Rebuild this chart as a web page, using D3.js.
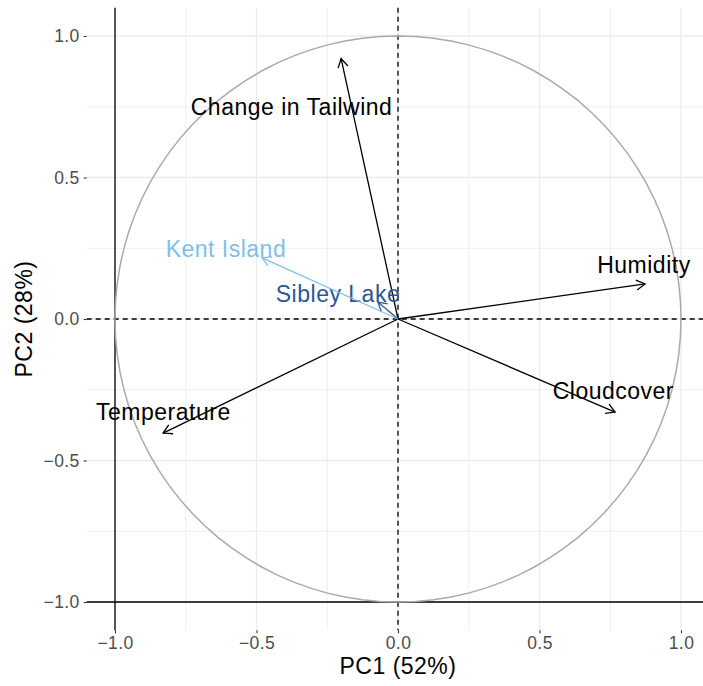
<!DOCTYPE html>
<html>
<head>
<meta charset="utf-8">
<script src="https://cdn.jsdelivr.net/npm/d3@7"></script>
<style>
  body { margin: 0; background: #fff; }
  text { font-family: "Liberation Sans", Arial, sans-serif; }
</style>
</head>
<body>
<svg id="chart" width="703" height="686"></svg>
<script>
// active variables (loadings on PC1 / PC2)
const varNames = ["Change in Tailwind", "Humidity", "Cloudcover", "Temperature"];
const varPC1 = [-0.201, 0.873, 0.767, -0.830];
const varPC2 = [0.920, 0.124, -0.329, -0.403];
const varLabelX = [-0.376, 0.869, 0.761, -0.829];
const varLabelY = [0.749, 0.191, -0.254, -0.329];

// supplementary variables (sites)
const supNames = ["Sibley Lake", "Kent Island"];
const supPC1 = [-0.071, -0.480];
const supPC2 = [0.060, 0.216];
const supLabelX = [-0.212, -0.608];
const supLabelY = [0.088, 0.247];
const supColors = ["#2c5698", "#80bfea"];

const tickValues = [-1.0, -0.5, 0.0, 0.5, 1.0];
const minorValues = [-0.75, -0.25, 0.25, 0.75];
const xTitle = "PC1 (52%)";
const yTitle = "PC2 (28%)";

const svg = d3.select("#chart");
const x = d3.scaleLinear().domain([-1, 1]).range([115, 681]);
const y = d3.scaleLinear().domain([-1, 1]).range([602, 36]);
const panel = { left: x(-1.1), right: x(1.1), top: y(1.1), bottom: y(-1.1) };

// grid
const grid = svg.append("g");
grid.selectAll(".minx").data(minorValues).join("line")
  .attr("x1", d => x(d)).attr("x2", d => x(d))
  .attr("y1", panel.top).attr("y2", panel.bottom)
  .attr("stroke", "#ebebeb").attr("stroke-width", 0.8);
grid.selectAll(".miny").data(minorValues).join("line")
  .attr("y1", d => y(d)).attr("y2", d => y(d))
  .attr("x1", panel.left).attr("x2", panel.right)
  .attr("stroke", "#ebebeb").attr("stroke-width", 0.8);
grid.selectAll(".majx").data(tickValues).join("line")
  .attr("x1", d => x(d)).attr("x2", d => x(d))
  .attr("y1", panel.top).attr("y2", panel.bottom)
  .attr("stroke", "#ebebeb").attr("stroke-width", 1.3);
grid.selectAll(".majy").data(tickValues).join("line")
  .attr("y1", d => y(d)).attr("y2", d => y(d))
  .attr("x1", panel.left).attr("x2", panel.right)
  .attr("stroke", "#ebebeb").attr("stroke-width", 1.3);

// axes (ticks + labels only)
const fmt = d => d3.format(".1f")(d).replace("-", "\u2212");
const xAxis = d3.axisBottom(x).tickValues(tickValues).tickSize(3).tickPadding(3).tickFormat(fmt);
const yAxis = d3.axisLeft(y).tickValues(tickValues).tickSize(3).tickPadding(4).tickFormat(fmt);

const gx = svg.append("g").attr("transform", `translate(0,${panel.bottom})`).call(xAxis);
const gy = svg.append("g").attr("transform", `translate(${panel.left},0)`).call(yAxis);
[gx, gy].forEach(g => {
  g.select(".domain").remove();
  g.selectAll(".tick line").attr("stroke", "#333").attr("stroke-width", 1.1);
  g.selectAll(".tick text").attr("fill", "#4d4d4d").style("font-size", "17.5px")
    .style("letter-spacing", "0.4px")
    .style("font-family", "'Liberation Sans', Arial, sans-serif");
});

// frame lines at -1 and dashed zero lines
svg.append("line").attr("x1", x(-1)).attr("x2", x(-1)).attr("y1", panel.top).attr("y2", panel.bottom)
  .attr("stroke", "#000").attr("stroke-width", 1.3);
svg.append("line").attr("y1", y(-1)).attr("y2", y(-1)).attr("x1", panel.left).attr("x2", panel.right)
  .attr("stroke", "#000").attr("stroke-width", 1.3);
svg.append("line").attr("x1", x(0)).attr("x2", x(0)).attr("y1", panel.top).attr("y2", panel.bottom)
  .attr("stroke", "#000").attr("stroke-width", 1.3).attr("stroke-dasharray", "5,4");
svg.append("line").attr("y1", y(0)).attr("y2", y(0)).attr("x1", panel.left).attr("x2", panel.right)
  .attr("stroke", "#000").attr("stroke-width", 1.3).attr("stroke-dasharray", "5,4");

// correlation circle
const circlePts = d3.range(0, 101).map(i => {
  const a = i / 100 * 2 * Math.PI;
  return [Math.cos(a), Math.sin(a)];
});
svg.append("path")
  .attr("d", d3.line().x(d => x(d[0])).y(d => y(d[1]))(circlePts))
  .attr("fill", "none").attr("stroke", "#aaaaaa").attr("stroke-width", 1.5);

function arrow(g, px, py, color) {
  const x0 = x(0), y0 = y(0), x1 = x(px), y1 = y(py);
  const ang = Math.atan2(y1 - y0, x1 - x0);
  const len = 10, spread = Math.PI / 6;
  const h1 = [x1 - len * Math.cos(ang - spread), y1 - len * Math.sin(ang - spread)];
  const h2 = [x1 - len * Math.cos(ang + spread), y1 - len * Math.sin(ang + spread)];
  g.append("line").attr("x1", x0).attr("y1", y0).attr("x2", x1).attr("y2", y1)
    .attr("stroke", color).attr("stroke-width", 1.3);
  g.append("path").attr("d", `M${h1[0]},${h1[1]}L${x1},${y1}L${h2[0]},${h2[1]}`)
    .attr("fill", "none").attr("stroke", color).attr("stroke-width", 1.3);
}

const marks = svg.append("g");
varNames.forEach((n, i) => arrow(marks, varPC1[i], varPC2[i], "#000"));
marks.selectAll(".vlab").data(varNames).join("text")
  .attr("x", (d, i) => x(varLabelX[i])).attr("y", (d, i) => y(varLabelY[i]))
  .attr("dy", "0.35em").attr("text-anchor", "middle")
  .style("font-size", "23px").style("letter-spacing", "0.5px")
  .attr("fill", "#000").text(d => d);

supNames.forEach((n, i) => {
  arrow(marks, supPC1[i], supPC2[i], supColors[i]);
  marks.append("text")
    .attr("x", x(supLabelX[i])).attr("y", y(supLabelY[i]))
    .attr("dy", "0.35em").attr("text-anchor", "middle")
    .style("font-size", "23px").style("letter-spacing", "0.5px")
    .attr("fill", supColors[i]).text(n);
});

// axis titles
svg.append("text").attr("x", x(0)).attr("y", 674).attr("text-anchor", "middle")
  .style("font-size", "23px").style("letter-spacing", "0.5px").attr("fill", "#000").text(xTitle);
svg.append("text").attr("transform", `translate(32,${y(0)}) rotate(-90)`)
  .attr("text-anchor", "middle").style("font-size", "23px").style("letter-spacing", "0.5px")
  .attr("fill", "#000").text(yTitle);
</script>
</body>
</html>
